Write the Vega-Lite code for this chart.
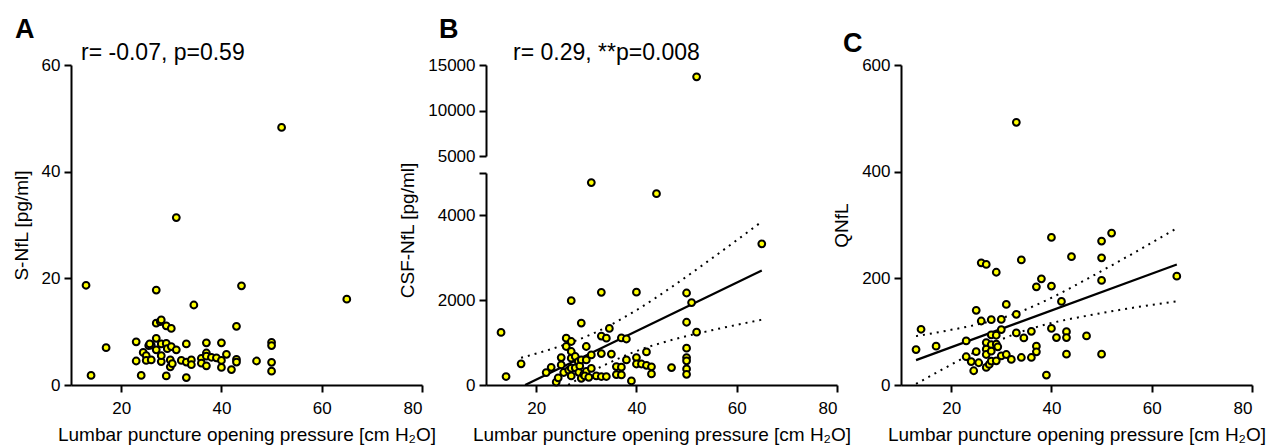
{
  "$schema": "https://vega.github.io/schema/vega-lite/v6.json",
  "background": "white",
  "padding": {"left": 12, "top": 16, "right": 5, "bottom": 3},
  "autosize": {"type": "pad"},
  "bounds": "flush",
  "spacing": 64,
  "datasets": {
    "A": [
      {"x":13,"y":18.7},{"x":14,"y":1.8},{"x":17,"y":7.0},{"x":23,"y":8.1},{"x":23,"y":4.5},{"x":24,"y":1.8},{"x":24.4,"y":6.1},{"x":25,"y":5.5},{"x":25,"y":4.6},{"x":25.5,"y":7.4},{"x":26,"y":4.7},{"x":26,"y":7.5},{"x":25.7,"y":7.7},{"x":27,"y":17.8},{"x":27,"y":11.6},{"x":27.8,"y":11.9},{"x":28,"y":12.2},{"x":27,"y":8.75},{"x":27,"y":6.6},{"x":28,"y":4.4},{"x":28,"y":5.5},{"x":28,"y":7.7},{"x":29,"y":11.1},{"x":30,"y":10.6},{"x":29,"y":1.7},{"x":29,"y":7.8},{"x":29.2,"y":6.8},{"x":29.8,"y":4.7},{"x":29.8,"y":3.4},{"x":30,"y":7.2},{"x":30.2,"y":4.0},{"x":31,"y":6.6},{"x":31,"y":31.4},{"x":32,"y":4.6},{"x":33,"y":7.7},{"x":33,"y":4.3},{"x":33,"y":1.4},{"x":34,"y":4.7},{"x":34,"y":3.8},{"x":34.5,"y":15.0},{"x":36,"y":5.0},{"x":36,"y":4.1},{"x":37,"y":7.9},{"x":37,"y":6.0},{"x":37,"y":5.4},{"x":37,"y":3.6},{"x":38,"y":5.2},{"x":39,"y":5.1},{"x":40,"y":7.9},{"x":40,"y":4.6},{"x":40,"y":3.3},{"x":41,"y":5.75},{"x":42,"y":2.9},{"x":43,"y":11.0},{"x":43,"y":4.8},{"x":43,"y":4.3},{"x":44,"y":18.6},{"x":47,"y":4.5},{"x":50,"y":8.0},{"x":50,"y":7.4},{"x":50,"y":4.25},{"x":50,"y":2.6},{"x":52,"y":48.3},{"x":65,"y":16.1}
    ],
    "B": [
      {"x":13,"y":1240},{"x":14,"y":200},{"x":17,"y":500},{"x":22,"y":292},{"x":23,"y":418},{"x":24,"y":70},{"x":24.4,"y":170},{"x":25,"y":648},{"x":25,"y":473},{"x":25.5,"y":295},{"x":26,"y":1105},{"x":26,"y":908},{"x":26.5,"y":350},{"x":27,"y":1988},{"x":27,"y":1026},{"x":27,"y":790},{"x":27,"y":632},{"x":27,"y":395},{"x":27,"y":213},{"x":27.8,"y":672},{"x":27.8,"y":405},{"x":28.4,"y":552},{"x":28.5,"y":300},{"x":28.7,"y":450},{"x":29,"y":1460},{"x":29,"y":592},{"x":29,"y":158},{"x":29.5,"y":250},{"x":30,"y":908},{"x":30,"y":592},{"x":30,"y":320},{"x":29.7,"y":213},{"x":30.5,"y":180},{"x":31,"y":4773},{"x":31,"y":710},{"x":31,"y":390},{"x":32,"y":215},{"x":33,"y":2187},{"x":33,"y":1155},{"x":33,"y":742},{"x":33,"y":200},{"x":34,"y":1105},{"x":34,"y":200},{"x":34.6,"y":1335},{"x":35,"y":730},{"x":36,"y":435},{"x":36,"y":245},{"x":37,"y":1110},{"x":37,"y":420},{"x":37,"y":237},{"x":38,"y":1085},{"x":38,"y":592},{"x":39,"y":95},{"x":40,"y":2190},{"x":40,"y":647},{"x":40,"y":495},{"x":41,"y":495},{"x":42,"y":780},{"x":42,"y":465},{"x":43,"y":430},{"x":43,"y":260},{"x":44,"y":4513},{"x":47,"y":410},{"x":50,"y":2170},{"x":50,"y":1480},{"x":50,"y":868},{"x":50,"y":648},{"x":50,"y":570},{"x":50,"y":379},{"x":50,"y":253},{"x":51,"y":1945},{"x":52,"y":1245},{"x":52,"y":13700},{"x":65,"y":3330}
    ],
    "C": [
      {"x":13,"y":66.5},{"x":14,"y":104.5},{"x":17,"y":72.8},{"x":23,"y":82.7},{"x":23,"y":53},{"x":24,"y":44},{"x":24.5,"y":26.7},{"x":25,"y":140},{"x":25,"y":62.5},{"x":25.5,"y":41.7},{"x":26,"y":229},{"x":27,"y":226},{"x":26,"y":120},{"x":27,"y":79.6},{"x":27,"y":67.2},{"x":27,"y":57.2},{"x":27,"y":33},{"x":27.6,"y":38.6},{"x":28,"y":122.5},{"x":28,"y":94},{"x":28,"y":75.9},{"x":28,"y":63.4},{"x":28,"y":44.8},{"x":29,"y":211.4},{"x":29,"y":93.3},{"x":29,"y":76.5},{"x":29,"y":45.4},{"x":29.3,"y":71.5},{"x":30,"y":123},{"x":30,"y":104},{"x":30,"y":54.7},{"x":31,"y":151},{"x":31,"y":57.2},{"x":32,"y":48},{"x":33,"y":132.5},{"x":33,"y":97.6},{"x":33,"y":492.5},{"x":34,"y":234.5},{"x":34,"y":51.6},{"x":34.5,"y":88.3},{"x":36,"y":100.7},{"x":36,"y":51.6},{"x":37,"y":184},{"x":37,"y":72.8},{"x":37,"y":62.2},{"x":38,"y":199},{"x":39,"y":18.7},{"x":40,"y":276.7},{"x":40,"y":185.5},{"x":40,"y":106},{"x":41,"y":88.9},{"x":42,"y":156.7},{"x":43,"y":100},{"x":43,"y":88.9},{"x":43,"y":57.8},{"x":44,"y":240.7},{"x":47,"y":92},{"x":50,"y":269.9},{"x":50,"y":238.5},{"x":50,"y":196},{"x":50,"y":57.8},{"x":52,"y":284.8},{"x":65,"y":204}
    ],
    "Bfit": [
      {"series":"fit","x":17.8,"y":0},{"series":"fit","x":65,"y":2700},
      {"series":"upper","x":17,"y":643},{"series":"upper","x":22,"y":810},{"series":"upper","x":27,"y":1006},{"series":"upper","x":33,"y":1305},{"series":"upper","x":40,"y":1765},{"series":"upper","x":47,"y":2309},{"series":"upper","x":55,"y":2982},{"series":"upper","x":65,"y":3853},
      {"series":"lower","x":26.4,"y":0},{"series":"lower","x":30,"y":251},{"series":"lower","x":33,"y":433},{"series":"lower","x":40,"y":800},{"series":"lower","x":47,"y":1060},{"series":"lower","x":55,"y":1290},{"series":"lower","x":65,"y":1540}
    ],
    "Cfit": [
      {"series":"fit","x":13,"y":46.6},{"series":"fit","x":65,"y":226},
      {"series":"upper","x":13,"y":91.6},{"series":"upper","x":20,"y":103.4},{"series":"upper","x":26,"y":115.2},{"series":"upper","x":33,"y":134.6},{"series":"upper","x":40,"y":163.5},{"series":"upper","x":47,"y":198.3},{"series":"upper","x":55,"y":240},{"series":"upper","x":65,"y":294},
      {"series":"lower","x":13,"y":2},{"series":"lower","x":20,"y":38.2},{"series":"lower","x":26,"y":67.8},{"series":"lower","x":33,"y":96.6},{"series":"lower","x":40,"y":116.1},{"series":"lower","x":47,"y":129.7},{"series":"lower","x":55,"y":142.9},{"series":"lower","x":65,"y":157}
    ]
  },
  "hconcat": [
    {
      "width": 351,
      "height": 320,
      "title": {"text": "A", "anchor": "start", "frame": "group", "dx": -56},
      "layer": [
        {
          "data": {"name": "A"},
          "mark": {"type": "circle", "fill": "#FFFF00", "stroke": "black", "strokeWidth": 2, "size": 46, "opacity": 1, "fillOpacity": 1},
          "encoding": {
            "x": {"field": "x", "type": "quantitative", "scale": {"domain": [10, 80], "nice": false, "zero": false}, "axis": {"values": [20, 40, 60, 80], "title": "Lumbar puncture opening pressure [cm H₂O]"}},
            "y": {"field": "y", "type": "quantitative", "scale": {"domain": [0, 60], "nice": false}, "axis": {"values": [0, 20, 40, 60], "title": "S-NfL [pg/ml]"}}
          }
        },
        {
          "data": {"values": [{}]},
          "mark": {"type": "text", "text": "r= -0.07, p=0.59", "align": "left", "baseline": "alphabetic", "dy": -5, "fontSize": 23, "color": "black"},
          "encoding": {
            "x": {"datum": 12, "type": "quantitative", "scale": {"domain": [10, 80], "nice": false, "zero": false}},
            "y": {"datum": 60, "type": "quantitative", "scale": {"domain": [0, 60], "nice": false}}
          }
        }
      ]
    },
    {
      "width": 351,
      "height": 320,
      "title": {"text": "B", "anchor": "start", "frame": "group", "dx": -47},
      "resolve": {"scale": {"y": "independent"}, "axis": {"y": "independent"}},
      "layer": [
        {
          "encoding": {
            "x": {"field": "x", "type": "quantitative", "scale": {"domain": [10, 80], "nice": false, "zero": false}, "axis": {"values": [20, 40, 60, 80], "title": "Lumbar puncture opening pressure [cm H₂O]"}},
            "y": {"field": "y", "type": "quantitative", "scale": {"domain": [0, 5000], "nice": false, "range": [320, 108]}, "axis": {"orient": "left", "values": [0, 2000, 4000, 5000], "format": "d", "labelExpr": "datum.value == 5000 ? '' : datum.label", "title": null}}
          },
          "layer": [
            {
              "data": {"name": "Bfit"},
              "transform": [{"filter": "datum.series != 'fit'"}],
              "mark": {"type": "line", "color": "black", "strokeWidth": 2, "strokeDash": [2, 5], "interpolate": "monotone"},
              "encoding": {"detail": {"field": "series"}}
            },
            {
              "data": {"name": "Bfit"},
              "transform": [{"filter": "datum.series == 'fit'"}],
              "mark": {"type": "line", "color": "black", "strokeWidth": 2.2}
            },
            {
              "data": {"name": "B"},
              "transform": [{"filter": "datum.y < 5000"}],
              "mark": {"type": "circle", "fill": "#FFFF00", "stroke": "black", "strokeWidth": 2, "size": 46, "opacity": 1, "fillOpacity": 1}
            }
          ]
        },
        {
          "layer": [
            {
              "data": {"name": "B"},
              "transform": [{"filter": "datum.y >= 5000"}],
              "mark": {"type": "circle", "fill": "#FFFF00", "stroke": "black", "strokeWidth": 2, "size": 46, "opacity": 1, "fillOpacity": 1},
              "encoding": {
                "x": {"field": "x", "type": "quantitative", "scale": {"domain": [10, 80], "nice": false, "zero": false}},
                "y": {"field": "y", "type": "quantitative", "scale": {"domain": [5000, 15000], "nice": false, "zero": false, "range": [91, 0]}, "axis": {"orient": "left", "values": [5000, 10000, 15000], "format": "d", "title": "CSF-NfL [pg/ml]", "titleY": 165}}
              }
            },
            {
              "data": {"values": [{}]},
              "mark": {"type": "text", "text": "r= 0.29, **p=0.008", "align": "left", "baseline": "alphabetic", "dy": -5, "fontSize": 23, "color": "black"},
              "encoding": {
                "x": {"datum": 15.4, "type": "quantitative"},
                "y": {"datum": 15000, "type": "quantitative"}
              }
            }
          ]
        }
      ]
    },
    {
      "width": 351,
      "height": 320,
      "title": {"text": "C", "anchor": "start", "frame": "group", "dx": -58},
      "encoding": {
        "x": {"field": "x", "type": "quantitative", "scale": {"domain": [10, 80], "nice": false, "zero": false}, "axis": {"values": [20, 40, 60, 80], "title": "Lumbar puncture opening pressure [cm H₂O]"}},
        "y": {"field": "y", "type": "quantitative", "scale": {"domain": [0, 600], "nice": false}, "axis": {"values": [0, 200, 400, 600], "title": "QNfL"}}
      },
      "layer": [
        {
          "data": {"name": "Cfit"},
          "transform": [{"filter": "datum.series != 'fit'"}],
          "mark": {"type": "line", "color": "black", "strokeWidth": 2, "strokeDash": [2, 5], "interpolate": "monotone"},
          "encoding": {"detail": {"field": "series"}}
        },
        {
          "data": {"name": "Cfit"},
          "transform": [{"filter": "datum.series == 'fit'"}],
          "mark": {"type": "line", "color": "black", "strokeWidth": 2.2}
        },
        {
          "data": {"name": "C"},
          "mark": {"type": "circle", "fill": "#FFFF00", "stroke": "black", "strokeWidth": 2, "size": 46, "opacity": 1, "fillOpacity": 1}
        },
        {
          "data": {"values": [{}]},
          "mark": {"type": "text", "text": "r= 0.40, ***p=0.0009", "align": "left", "baseline": "alphabetic", "dy": -5, "fontSize": 23, "color": "black"},
          "encoding": {
            "x": {"datum": 14, "type": "quantitative"},
            "y": {"datum": 600, "type": "quantitative"}
          }
        }
      ]
    }
  ],
  "config": {
    "font": "Liberation Sans",
    "view": {"stroke": null},
    "title": {"fontSize": 27, "fontWeight": "bold", "font": "Liberation Sans", "color": "black", "offset": -2},
    "axis": {
      "grid": false,
      "domainColor": "black",
      "domainWidth": 2,
      "tickColor": "black",
      "tickWidth": 2,
      "tickSize": 7,
      "labelColor": "black",
      "labelFont": "Liberation Sans",
      "labelFontSize": 17,
      "labelPadding": 4,
      "titleFont": "Liberation Sans",
      "titleFontSize": 19,
      "titleFontWeight": "normal",
      "titleColor": "black",
      "titlePadding": 10
    },
    "axisX": {"labelPadding": 8, "titlePadding": 9}
  }
}
